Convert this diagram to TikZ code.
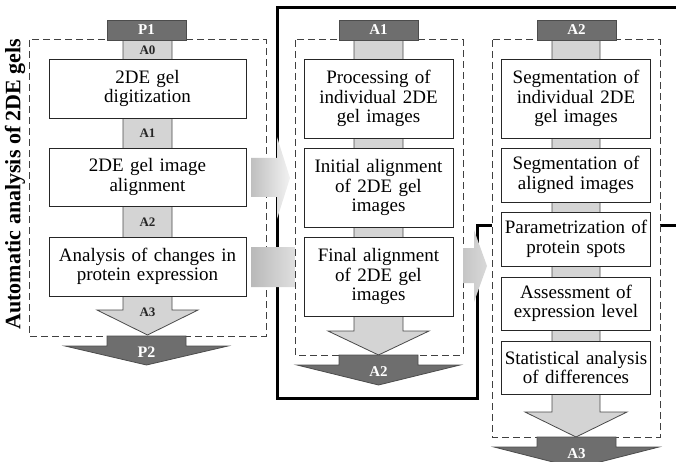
\documentclass[tikz,border=0pt]{standalone}
\usepackage{fontspec}
\setmainfont{Liberation Serif}
\definecolor{darkbar}{HTML}{6E6E6E}
\definecolor{lightbar}{HTML}{D4D4D4}
\definecolor{edgegray}{HTML}{4A4A4A}
\tikzset{
  stepbox/.style={draw=black!85, fill=white, line width=0.8pt, align=center,
    inner xsep=1pt, inner ysep=0pt, font=\fontsize{19}{19.5}\selectfont},
  widebox/.style={stepbox, minimum width=197pt, text width=193pt},
  narrowbox/.style={stepbox, minimum width=149pt, text width=145pt},
  panel/.style={draw=black!75, fill=white, dash pattern=on 7pt off 4pt, line width=1pt},
  column/.style={draw=edgegray, fill=lightbar, line width=0.8pt},
  darkpart/.style={draw=black!70, fill=darkbar, line width=0.8pt},
  barlabel/.style={font=\fontsize{13}{13}\selectfont\bfseries, text=black!85},
  darklabel/.style={font=\fontsize{15}{15}\selectfont\bfseries, text=white},
}
\begin{document}
\begin{tikzpicture}[x=1pt,y=-1pt]
  \useasboundingbox (0,0) rectangle (676,462);
  \draw[line width=3pt, line join=miter] (690,8) -- (277,8) -- (277,398) -- (477,398) -- (477,225) -- (690,225);

  \draw[panel] (29,40) rectangle (266,336);
  \shade[left color=gray!50, right color=gray!10] (251,158) -- (277,158) -- (277,137) -- (290,178)
    -- (277,219) -- (277,197) -- (251,197) -- cycle;
  \shade[left color=gray!55, right color=gray!12] (251,247) -- (300,247) -- (300,228) -- (314,267)
    -- (300,306) -- (300,287) -- (251,287) -- cycle;
  \draw[panel] (295,40) rectangle (463,355);
  \shade[left color=gray!45, right color=gray!30] (463,248) -- (474,248) -- (474,230) -- (487,266)
    -- (474,302) -- (474,283) -- (463,283) -- cycle;
  \draw[panel] (492,40) rectangle (660,437);

  \draw[column] (123,40) -- (123,310) -- (97,310) -- (147.5,335) -- (198,310) -- (172,310) -- (172,40) -- cycle;
  \draw[column] (354,40) -- (354,331) -- (328,331) -- (378.5,355) -- (429,331) -- (403,331) -- (403,40) -- cycle;
  \draw[column] (552,40) -- (552,412) -- (525,412) -- (576,437) -- (627,412) -- (600,412) -- (600,40) -- cycle;

  \draw[darkpart] (107,336) -- (107,346) -- (65,346) -- (146.5,365) -- (228,346) -- (186,346) -- (186,336) -- cycle;
  \draw[darkpart] (339,355) -- (339,365) -- (297,365) -- (378.5,385) -- (460,365) -- (418,365) -- (418,355) -- cycle;
  \draw[darkpart] (537,437) -- (537,447) -- (494,447) -- (576.5,468) -- (659,447) -- (616,447) -- (616,437) -- cycle;

  \node[darkpart, darklabel, minimum width=79pt, minimum height=20pt] (p1) at (146.5,30) {P1};
  \node[darkpart, darklabel, minimum width=79pt, minimum height=20pt] (b1) at (378.5,30) {A1};
  \node[darkpart, darklabel, minimum width=79pt, minimum height=20pt] (c2) at (576.5,30) {A2};

  \node[widebox, minimum height=59pt] (d1) at (147.5,88.5) {2DE gel\\digitization};
  \node[widebox, minimum height=58pt] (d2) at (147.5,177) {2DE gel image\\alignment};
  \node[widebox, minimum height=59pt] (d3) at (147.5,266.5) {Analysis of changes in\\protein expression};

  \node[narrowbox, minimum height=79pt] (e1) at (378.5,98.5) {Processing of\\individual 2DE\\gel images};
  \node[narrowbox, minimum height=79pt] (e2) at (378.5,187.5) {Initial alignment\\of 2DE gel\\images};
  \node[narrowbox, minimum height=79pt] (e3) at (378.5,276.5) {Final alignment\\of 2DE gel\\images};

  \node[narrowbox, minimum height=79pt] (f1) at (576,98.5) {Segmentation of\\individual 2DE\\gel images};
  \node[narrowbox, minimum height=54pt] (f2) at (576,175) {Segmentation of\\aligned images};
  \node[narrowbox, minimum height=54pt] (f3) at (576,239) {Parametrization of\\protein spots};
  \node[narrowbox, minimum height=53pt] (f4) at (576,303.5) {Assessment of\\expression level};
  \node[narrowbox, minimum height=53pt] (f5) at (576,367.5) {Statistical analysis\\of differences};

  \node[barlabel] (a0) at (147.5,50) {A0};
  \node[barlabel] (a1) at (147.5,133) {A1};
  \node[barlabel] (a2) at (147.5,222) {A2};
  \node[barlabel] (a3) at (147.5,312) {A3};
  \node[darklabel, font=\fontsize{16}{16}\selectfont\bfseries] (p2) at (146.5,352) {P2};
  \node[darklabel] (b2) at (378.5,372) {A2};
  \node[darklabel] (c3) at (576.5,454) {A3};

  \node[rotate=90, font=\fontsize{22}{22}\selectfont\bfseries] (title) at (15,184) {Automatic analysis of 2DE gels};
\end{tikzpicture}
\end{document}
